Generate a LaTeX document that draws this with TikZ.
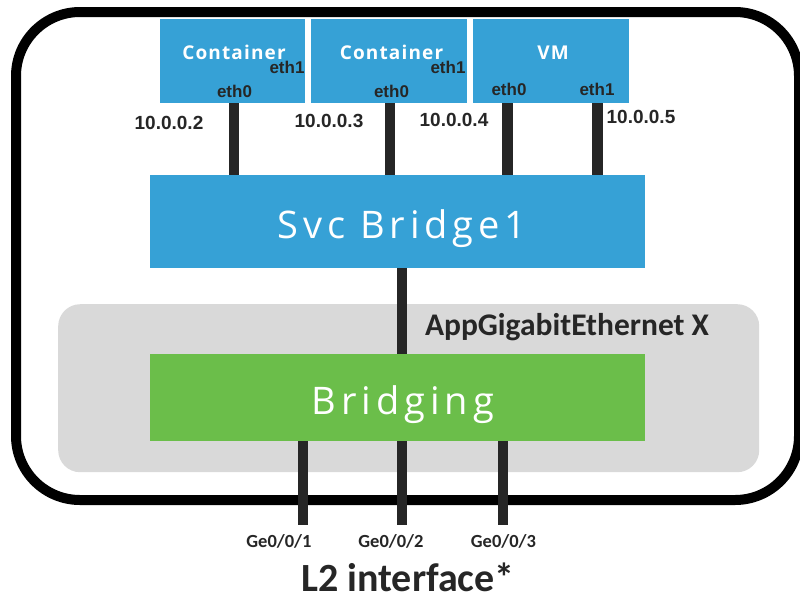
\documentclass[tikz,border=0pt]{standalone}
\usepackage{fontspec}
\setmainfont{Liberation Sans}
\newfontfamily\osans{Open Sans}[LetterSpace=13]
\newfontfamily\osansb{Open Sans}[LetterSpace=6]
\newfontfamily\lsans{Liberation Sans}
\newfontfamily\carl{Carlito}
\definecolor{boxblue}{HTML}{36A1D6}
\definecolor{bridgegreen}{HTML}{6BBE4A}
\definecolor{panelgray}{HTML}{D9D9D9}
\definecolor{ink}{HTML}{262626}
\tikzset{
  blockbox/.style={draw=none, fill=boxblue, inner sep=0, outer sep=0, anchor=north west},
  link/.style={draw=ink, line width=10.5},
  lbl/.style={inner sep=0, outer sep=0, anchor=base, text=ink},
  vmname/.style={lbl, text=white, font=\osansb\bfseries\fontsize{19}{19}\selectfont},
  port/.style={lbl, font=\lsans\bfseries\fontsize{17}{17}\selectfont},
  addr/.style={lbl, font=\lsans\bfseries\fontsize{19}{19}\selectfont},
  big/.style={lbl, text=white, font=\osans\fontsize{38}{38}\selectfont},
  ge/.style={lbl, font=\carl\bfseries\fontsize{18.5}{18.5}\selectfont},
}
\begin{document}
\begin{tikzpicture}[x=1pt, y=-1pt]
\useasboundingbox (0,0) rectangle (800,595);
\fill[white] (0,0) rectangle (800,595);

% chassis outline
\draw[line width=10, rounded corners=64] (16,12) rectangle (799,500);

% AppGigabitEthernet panel
\node[fill=panelgray, rounded corners=22, inner sep=0, minimum width=701, minimum height=168, anchor=north west] (panel) at (58,304) {};
\node[lbl, anchor=base west, font=\carl\bfseries\fontsize{31.5}{31.5}\selectfont] (appge) at (425,335) {AppGigabitEthernet X};

% service bridge and bridging block
\node[blockbox, minimum width=495, minimum height=93] (svc) at (150,175) {};
\node[blockbox, fill=bridgegreen, minimum width=495, minimum height=87] (brg) at (150,354) {};
\node[big] (svct) at (402,238) {Svc Bridge1};
\node[big] (brgt) at (403,414) {Bridging};

% containers and VM
\node[blockbox, minimum width=145, minimum height=84] (c1) at (160,19) {};
\node[blockbox, minimum width=156, minimum height=84] (c2) at (311,19) {};
\node[blockbox, minimum width=156, minimum height=84] (vm) at (473,19) {};
\node[vmname] (c1t) at (234,59.5) {Container};
\node[vmname] (c2t) at (391.5,59.5) {Container};
\node[vmname] (vmt) at (553,59.5) {VM};

\node[port] (c1e1) at (287,73) {eth1};
\node[port] (c2e1) at (448,73) {eth1};
\node[port] (c1e0) at (234.5,97.5) {eth0};
\node[port] (c2e0) at (391.5,97.5) {eth0};
\node[port] (vme0) at (509,95) {eth0};
\node[port] (vme1) at (597,95) {eth1};

% links from the guests to the service bridge
\draw[link] (234,0 |- c1.south) -- (234,0 |- svc.north);
\draw[link] (390,0 |- c2.south) -- (390,0 |- svc.north);
\draw[link] (507.5,0 |- vm.south) -- (507.5,0 |- svc.north);
\draw[link] (597.5,0 |- vm.south) -- (597.5,0 |- svc.north);

\node[addr] (ip2) at (169,129) {10.0.0.2};
\node[addr] (ip3) at (329,127.5) {10.0.0.3};
\node[addr] (ip4) at (454,126) {10.0.0.4};
\node[addr] (ip5) at (641,123) {10.0.0.5};

% service bridge to bridging
\draw[link] (402,0 |- svc.south) -- (402,0 |- brg.north);

% physical ports
\coordinate (g1) at (303,525);
\coordinate (g2) at (402,525);
\coordinate (g3) at (503,525);
\draw[link] (g1 |- brg.south) -- (g1);
\draw[link] (g2 |- brg.south) -- (g2);
\draw[link] (g3 |- brg.south) -- (g3);

\node[ge] (ge1) at (279,547) {Ge0/0/1};
\node[ge] (ge2) at (391,547) {Ge0/0/2};
\node[ge] (ge3) at (503.5,547) {Ge0/0/3};
\node[lbl, font=\carl\bfseries\fontsize{40}{40}\selectfont] (l2) at (408,591) {L2 interface*};
\end{tikzpicture}
\end{document}
